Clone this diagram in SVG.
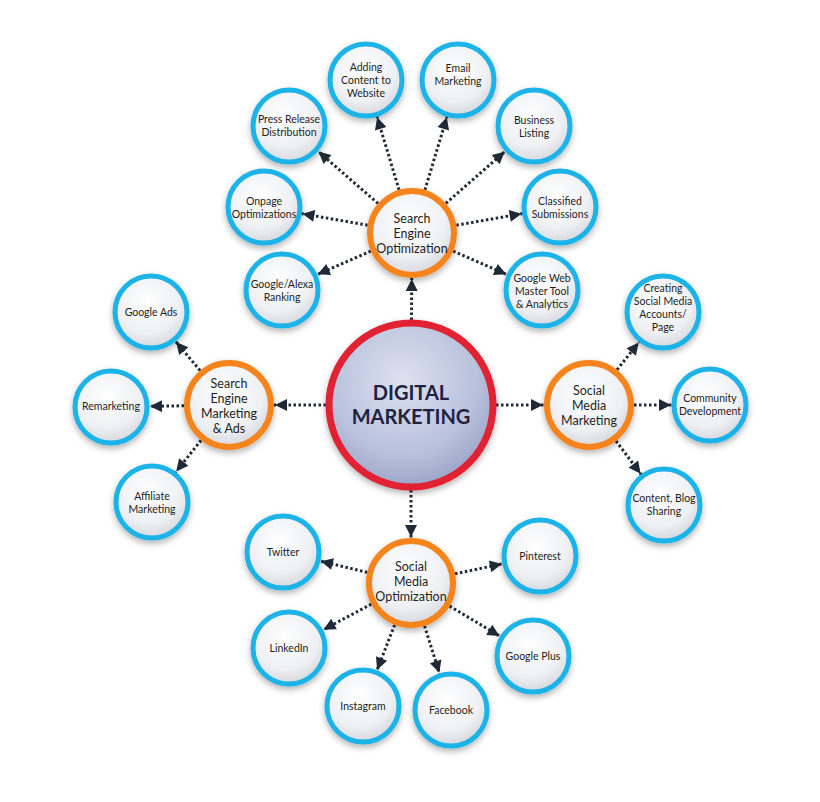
<svg xmlns="http://www.w3.org/2000/svg" width="820" height="802" viewBox="0 0 820 802">
<defs>
<radialGradient id="gw" cx="0.45" cy="0.35" r="0.75"><stop offset="0" stop-color="#ffffff"/><stop offset="0.6" stop-color="#eef0f3"/><stop offset="1" stop-color="#c9ccd2"/></radialGradient>
<radialGradient id="gc" cx="0.45" cy="0.35" r="0.75"><stop offset="0" stop-color="#dde2f0"/><stop offset="0.6" stop-color="#b9c1dc"/><stop offset="1" stop-color="#8e98bf"/></radialGradient>
<filter id="sh" x="-20%" y="-20%" width="140%" height="150%"><feDropShadow dx="0" dy="3" stdDeviation="3" flood-color="#000" flood-opacity="0.3"/></filter>
<marker id="ac" viewBox="-20 -10 70 20" refX="39" refY="0" markerWidth="70" markerHeight="20" markerUnits="userSpaceOnUse" orient="auto"><path d="M0,0 L-12,-6 L-12,6 Z" fill="#1f2a36"/></marker>
<marker id="ah" viewBox="-20 -10 70 20" refX="46" refY="0" markerWidth="70" markerHeight="20" markerUnits="userSpaceOnUse" orient="auto"><path d="M0,0 L-12,-6 L-12,6 Z" fill="#1f2a36"/></marker>
</defs>
<style>
.l{stroke:#1f2a36;stroke-width:3;stroke-dasharray:2.5 2.5;fill:none}
.c{marker-end:url(#ac)}.h{marker-end:url(#ah)}
.b{fill:url(#gw);stroke:#1bb3e8;stroke-width:5;filter:url(#sh)}
.o{fill:url(#gw);stroke:#f5841f;stroke-width:6;filter:url(#sh)}
text{font-family:Lato,"Open Sans",sans-serif;fill:#1e1e1e;text-anchor:middle}
.t{font-size:10.5px}.ht{font-size:12.5px}
.ct{font-size:20px;font-weight:bold;fill:#1f2240}
</style>
<rect width="820" height="802" fill="#fff"/>
<g id="connectors">
<line class="l h" x1="411" y1="405" x2="412" y2="233"/>
<line class="l h" x1="411" y1="405" x2="229" y2="405"/>
<line class="l h" x1="411" y1="405" x2="589" y2="405"/>
<line class="l h" x1="411" y1="405" x2="411" y2="583"/>
<line class="l c" x1="412" y1="233" x2="366" y2="80"/>
<line class="l c" x1="412" y1="233" x2="458" y2="80"/>
<line class="l c" x1="412" y1="233" x2="289" y2="126"/>
<line class="l c" x1="412" y1="233" x2="534" y2="126"/>
<line class="l c" x1="412" y1="233" x2="264" y2="207"/>
<line class="l c" x1="412" y1="233" x2="560" y2="207"/>
<line class="l c" x1="412" y1="233" x2="282" y2="290"/>
<line class="l c" x1="412" y1="233" x2="542" y2="290"/>
<line class="l c" x1="229" y1="405" x2="151" y2="312"/>
<line class="l c" x1="229" y1="405" x2="111" y2="407"/>
<line class="l c" x1="229" y1="405" x2="152" y2="502"/>
<line class="l c" x1="589" y1="405" x2="663" y2="312"/>
<line class="l c" x1="589" y1="405" x2="710" y2="405"/>
<line class="l c" x1="589" y1="405" x2="664" y2="505"/>
<line class="l c" x1="411" y1="583" x2="283" y2="552"/>
<line class="l c" x1="411" y1="583" x2="540" y2="556"/>
<line class="l c" x1="411" y1="583" x2="289" y2="648"/>
<line class="l c" x1="411" y1="583" x2="533" y2="656"/>
<line class="l c" x1="411" y1="583" x2="363" y2="706"/>
<line class="l c" x1="411" y1="583" x2="451" y2="710"/>
</g>
<g id="center"><circle cx="411" cy="405" r="82" fill="url(#gc)" stroke="#e02030" stroke-width="7" filter="url(#sh)"/><text class="ct" x="411" y="400">DIGITAL</text><text class="ct" x="411" y="424">MARKETING</text></g>
<g id="seo"><circle class="o" cx="412" cy="233" r="42"/><text class="ht" x="412" y="223">Search</text><text class="ht" x="412" y="238">Engine</text><text class="ht" x="412" y="253">Optimization</text></g>
<g id="sem"><circle class="o" cx="229" cy="405" r="42"/><text class="ht" x="229" y="388">Search</text><text class="ht" x="229" y="403">Engine</text><text class="ht" x="229" y="418">Marketing</text><text class="ht" x="229" y="433">&amp; Ads</text></g>
<g id="smm"><circle class="o" cx="589" cy="405" r="42"/><text class="ht" x="589" y="395">Social</text><text class="ht" x="589" y="410">Media</text><text class="ht" x="589" y="425">Marketing</text></g>
<g id="smo"><circle class="o" cx="411" cy="583" r="42"/><text class="ht" x="411" y="571">Social</text><text class="ht" x="411" y="586">Media</text><text class="ht" x="411" y="601">Optimization</text></g>
<g id="adding"><circle class="b" cx="366" cy="80" r="36"/><text class="t" x="366" y="71">Adding</text><text class="t" x="366" y="84">Content to</text><text class="t" x="366" y="97">Website</text></g>
<g id="email"><circle class="b" cx="458" cy="80" r="36"/><text class="t" x="458" y="72">Email</text><text class="t" x="458" y="85">Marketing</text></g>
<g id="press"><circle class="b" cx="289" cy="126" r="36"/><text class="t" x="289" y="123">Press Release</text><text class="t" x="289" y="136">Distribution</text></g>
<g id="business"><circle class="b" cx="534" cy="126" r="36"/><text class="t" x="534" y="124">Business</text><text class="t" x="534" y="137">Listing</text></g>
<g id="onpage"><circle class="b" cx="264" cy="207" r="36"/><text class="t" x="264" y="205">Onpage</text><text class="t" x="264" y="218">Optimizations</text></g>
<g id="classified"><circle class="b" cx="560" cy="207" r="36"/><text class="t" x="560" y="205">Classified</text><text class="t" x="560" y="218">Submissions</text></g>
<g id="alexa"><circle class="b" cx="282" cy="290" r="36"/><text class="t" x="282" y="288">Google/Alexa</text><text class="t" x="282" y="301">Ranking</text></g>
<g id="gwm"><circle class="b" cx="542" cy="290" r="36"/><text class="t" x="542" y="282">Google Web</text><text class="t" x="542" y="295">Master Tool</text><text class="t" x="542" y="308">&amp; Analytics</text></g>
<g id="gads"><circle class="b" cx="151" cy="312" r="36"/><text class="t" x="151" y="316">Google Ads</text></g>
<g id="remarketing"><circle class="b" cx="111" cy="407" r="36"/><text class="t" x="111" y="410">Remarketing</text></g>
<g id="affiliate"><circle class="b" cx="152" cy="502" r="36"/><text class="t" x="152" y="500">Affiliate</text><text class="t" x="152" y="513">Marketing</text></g>
<g id="creating"><circle class="b" cx="663" cy="312" r="36"/><text class="t" x="663" y="292">Creating</text><text class="t" x="663" y="305">Social Media</text><text class="t" x="663" y="318">Accounts/</text><text class="t" x="663" y="331">Page</text></g>
<g id="community"><circle class="b" cx="710" cy="405" r="36"/><text class="t" x="710" y="402">Community</text><text class="t" x="710" y="415">Development</text></g>
<g id="content"><circle class="b" cx="664" cy="505" r="36"/><text class="t" x="664" y="502">Content, Blog</text><text class="t" x="664" y="515">Sharing</text></g>
<g id="twitter"><circle class="b" cx="283" cy="552" r="36"/><text class="t" x="283" y="556">Twitter</text></g>
<g id="pinterest"><circle class="b" cx="540" cy="556" r="36"/><text class="t" x="540" y="560">Pinterest</text></g>
<g id="linkedin"><circle class="b" cx="289" cy="648" r="36"/><text class="t" x="289" y="652">LinkedIn</text></g>
<g id="gplus"><circle class="b" cx="533" cy="656" r="36"/><text class="t" x="533" y="660">Google Plus</text></g>
<g id="instagram"><circle class="b" cx="363" cy="706" r="36"/><text class="t" x="363" y="710">Instagram</text></g>
<g id="facebook"><circle class="b" cx="451" cy="710" r="36"/><text class="t" x="451" y="714">Facebook</text></g>
</svg>
